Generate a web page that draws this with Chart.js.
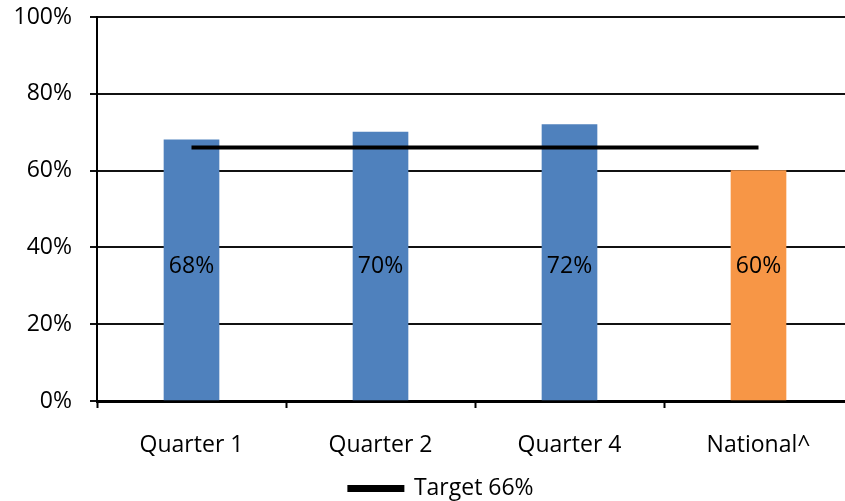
<!DOCTYPE html>
<html>
<head>
<meta charset="utf-8">
<script src="https://cdn.jsdelivr.net/npm/chart.js@4"></script>
<style>
  html, body { margin: 0; padding: 0; background: #fff; overflow: hidden; }
  #wrap { width: 883px; height: 501px; }
</style>
</head>
<body>
<div id="wrap"><canvas id="chart"></canvas></div>
<script>
const categories = ['Quarter 1', 'Quarter 2', 'Quarter 4', 'National^'];
const scores = [68, 70, 72, 60];
const target = [66, 66, 66, 66];
const targetLabel = 'Target 66%';
const yTicks = [0, 20, 40, 60, 80, 100];

const BLUE = '#4f81bd';
const ORANGE = '#f79646';
const FONT = "'Open Sans', sans-serif";

// value labels sit at a fixed height inside each bar, like the original
const barLabels = {
    id: 'barLabels',
    afterDatasetsDraw(chart) {
        const ctx = chart.ctx;
        const meta = chart.getDatasetMeta(1);
        const y = chart.scales.y.getPixelForValue(35);
        ctx.save();
        ctx.font = '23px ' + FONT;
        ctx.fillStyle = '#000';
        ctx.textAlign = 'center';
        ctx.textBaseline = 'middle';
        meta.data.forEach((bar, i) => {
            ctx.fillText(scores[i] + '%', bar.x, y);
        });
        ctx.restore();
    },
};

new Chart(document.getElementById('chart'), {
    type: 'bar',
    data: {
        labels: categories,
        datasets: [
            {
                type: 'line',
                label: targetLabel,
                data: target,
                borderColor: '#000',
                backgroundColor: '#000',
                borderWidth: 4,
                pointRadius: 0,
                fill: false,
                order: 0,
            },
            {
                label: 'Score',
                data: scores,
                backgroundColor: scores.map((v, i) => i === categories.length - 1 ? ORANGE : BLUE),
                barThickness: 55,
                order: 1,
            },
        ],
    },
    plugins: [barLabels],
    options: {
        responsive: true,
        maintainAspectRatio: false,
        animation: false,
        layout: { padding: { top: 17, bottom: -9, left: 0, right: 0 } },
        scales: {
            x: {
                grid: {
                    offset: true,
                    drawOnChartArea: false,
                    drawTicks: true,
                    tickLength: 7,
                    tickWidth: 2,
                    tickColor: '#000',
                },
                border: { color: '#000', width: 3 },
                ticks: {
                    font: { family: FONT, size: 23 },
                    color: '#000',
                    padding: 24,
                    maxRotation: 0,
                },
                afterFit: s => { s.height = 76; s.paddingLeft = 0; s.paddingRight = 0; },
            },
            y: {
                min: 0,
                max: 100,
                afterBuildTicks: s => { s.ticks = yTicks.map(v => ({ value: v })); },
                grid: {
                    color: '#111',
                    lineWidth: 2,
                    tickLength: 7,
                    drawTicks: true,
                },
                border: { color: '#000', width: 2 },
                ticks: {
                    callback: v => v + '%',
                    font: { family: FONT, size: 23 },
                    color: '#000',
                    padding: 18,
                },
                afterFit: s => { s.width = 97; s.paddingTop = 0; s.paddingBottom = 0; },
            },
            pad: {
                position: 'right',
                display: true,
                grid: { display: false, drawTicks: false },
                border: { display: false },
                ticks: { display: false },
                afterFit: s => { s.width = 30; s.paddingTop = 0; s.paddingBottom = 0; },
            },
        },
        plugins: {
            legend: {
                position: 'bottom',
                labels: {
                    filter: item => item.datasetIndex === 0,
                    boxWidth: 53,
                    boxHeight: 3,
                    padding: 0,
                    color: '#000',
                    font: { family: FONT, size: 23 },
                },
            },
            tooltip: { enabled: false },
        },
    },
});
</script>
</body>
</html>
